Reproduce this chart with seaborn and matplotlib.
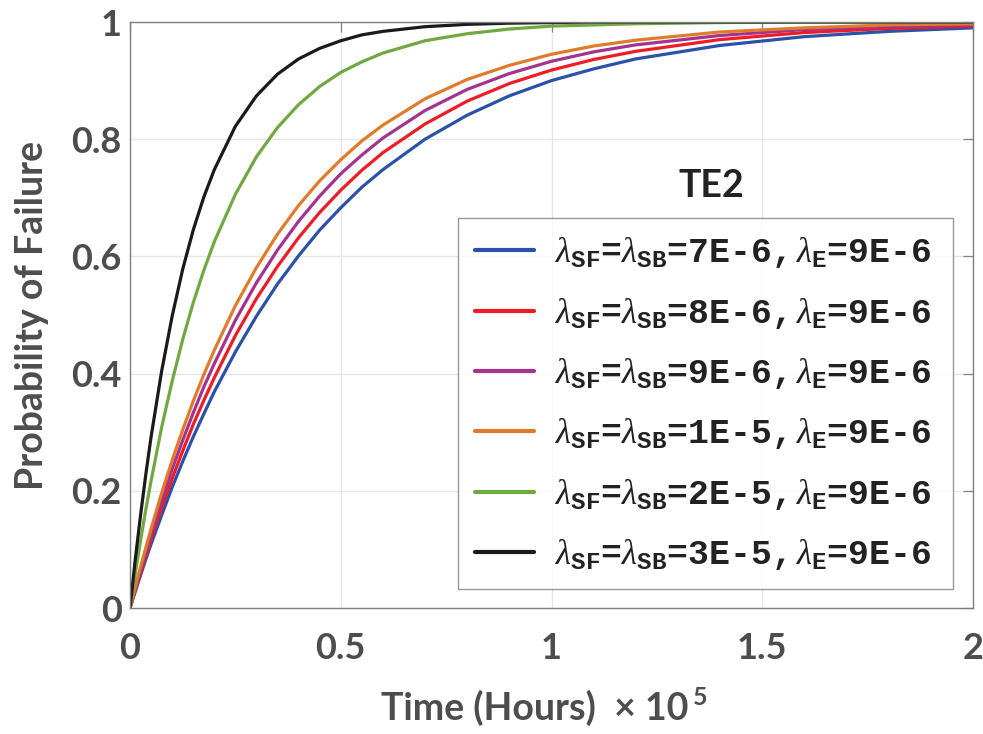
import numpy as np
import pandas as pd
import matplotlib
matplotlib.use("Agg")
import matplotlib.pyplot as plt
import seaborn as sns

# Time axis in units of 1e5 hours
time = [0, 0.0125, 0.025, 0.0375, 0.05, 0.075, 0.1, 0.125, 0.15, 0.175, 0.2,
        0.25, 0.3, 0.35, 0.4, 0.45, 0.5, 0.55, 0.6, 0.7, 0.8, 0.9, 1.0, 1.1,
        1.2, 1.4, 1.6, 1.8, 2.0]

# Probability of failure for each rate combination
p_sf7 = [0, 0.028, 0.056, 0.083, 0.109, 0.158, 0.206, 0.250, 0.292, 0.331, 0.369,
         0.437, 0.498, 0.553, 0.601, 0.645, 0.683, 0.718, 0.748, 0.800, 0.841,
         0.874, 0.900, 0.920, 0.937, 0.960, 0.975, 0.984, 0.990]
p_sf8 = [0, 0.031, 0.061, 0.089, 0.118, 0.171, 0.221, 0.268, 0.313, 0.354, 0.393,
         0.465, 0.528, 0.583, 0.632, 0.675, 0.713, 0.747, 0.777, 0.826, 0.865,
         0.895, 0.918, 0.936, 0.950, 0.970, 0.982, 0.989, 0.993]
p_sf9 = [0, 0.033, 0.065, 0.096, 0.126, 0.183, 0.237, 0.286, 0.333, 0.377, 0.417,
         0.491, 0.555, 0.611, 0.660, 0.703, 0.741, 0.773, 0.802, 0.849, 0.885,
         0.912, 0.933, 0.949, 0.961, 0.977, 0.987, 0.992, 0.995]
p_sf10 = [0, 0.036, 0.070, 0.103, 0.135, 0.196, 0.252, 0.304, 0.353, 0.398, 0.440,
          0.516, 0.581, 0.638, 0.687, 0.729, 0.765, 0.797, 0.824, 0.869, 0.902,
          0.926, 0.945, 0.959, 0.969, 0.983, 0.990, 0.995, 0.997]
p_sf20 = [0, 0.059, 0.115, 0.168, 0.217, 0.308, 0.387, 0.458, 0.521, 0.576, 0.625,
          0.706, 0.770, 0.820, 0.859, 0.890, 0.914, 0.932, 0.947, 0.968, 0.980,
          0.988, 0.993, 0.995, 0.997, 0.999, 1.000, 1.000, 1.000]
p_sf30 = [0, 0.083, 0.158, 0.228, 0.292, 0.404, 0.498, 0.578, 0.645, 0.701, 0.748,
          0.822, 0.874, 0.911, 0.937, 0.955, 0.968, 0.978, 0.984, 0.992, 0.996,
          0.998, 0.999, 1.000, 1.000, 1.000, 1.000, 1.000, 1.000]

rates_sf = ["7E-6", "8E-6", "9E-6", "1E-5", "2E-5", "3E-5"]
rate_e = "9E-6"
series = [p_sf7, p_sf8, p_sf9, p_sf10, p_sf20, p_sf30]
colors = ["#2a52a8", "#ee1c25", "#a3338f", "#e07b2b", "#70a842", "#1a1a1a"]

labels = [r"$\lambda_{\mathtt{SF}}$=$\lambda_{\mathtt{SB}}$=" + r
          + r",$\,\lambda_{\mathtt{E}}$=" + rate_e
          for r in rates_sf]

frames = []
for lab, vals in zip(labels, series):
    frames.append(pd.DataFrame({"time": time, "prob": vals, "case": lab}))
df = pd.concat(frames, ignore_index=True)

sns.set_style("white")
plt.rcParams["font.family"] = ["Lato", "DejaVu Sans"]
plt.rcParams["mathtext.fontset"] = "custom"
plt.rcParams["mathtext.rm"] = "Liberation Mono:weight=bold"
plt.rcParams["mathtext.tt"] = "Liberation Mono:weight=bold"
plt.rcParams["mathtext.it"] = "Liberation Serif:italic"
plt.rcParams["mathtext.bf"] = "Liberation Mono:weight=bold"

txt = "#4d4d4d"
fig = plt.figure(figsize=(9.83, 7.34), dpi=100)
ax = fig.add_axes([130 / 983, 1 - 608 / 734, 843 / 983, 586 / 734])

sns.lineplot(data=df, x="time", y="prob", hue="case", hue_order=labels,
             palette=colors, linewidth=2.3, ax=ax, sort=False, estimator=None)

ax.set_xlim(0, 2)
ax.set_ylim(0, 1)
ax.set_xticks([0, 0.5, 1, 1.5, 2])
ax.set_xticklabels(["0", "0.5", "1", "1.5", "2"])
ax.set_yticks([0, 0.2, 0.4, 0.6, 0.8, 1])
ax.set_yticklabels(["0", "0.2", "0.4", "0.6", "0.8", "1"])
ax.grid(True, color="#e6e6e6", linewidth=0.9)
for s in ax.spines.values():
    s.set_color("#808080")
    s.set_linewidth(1.0)
ax.tick_params(direction="in", length=7, width=0.9, color="#808080",
               top=True, right=True, labelsize=26, labelcolor=txt)
ax.tick_params(axis="x", pad=17)
ax.tick_params(axis="y", pad=6)
for t in ax.get_xticklabels() + ax.get_yticklabels():
    t.set_fontweight("bold")

ax.set_ylabel("Probability of Failure", fontsize=27, fontweight="bold",
              color=txt, labelpad=16)
ax.set_xlabel("")
xl = fig.text(535 / 983, 14 / 734, "Time (Hours)  \u00d7 10", fontsize=27,
              fontweight="bold", color=txt, ha="center", va="baseline")
ax.annotate("5", xy=(1, 1), xycoords=xl, xytext=(3, -14), textcoords="offset points",
            fontsize=18, fontweight="bold", color=txt, ha="left", va="bottom")

leg = ax.legend(loc="upper left", bbox_to_anchor=(0.389, 0.6655, 0.587, 0.0),
                mode="expand", fontsize=25, frameon=True, fancybox=False,
                handlelength=1.7, handletextpad=0.6, labelspacing=0.73,
                borderpad=0.5, title=None, borderaxespad=0)
leg.get_frame().set_edgecolor("#808080")
leg.get_frame().set_linewidth(1.0)
for line in leg.get_lines():
    line.set_linewidth(3)
for t in leg.get_texts():
    t.set_color("#222222")
    t.set_family("Liberation Mono")
    t.set_fontweight("bold")

ax.text(0.690, 0.72, "TE2", transform=ax.transAxes, fontsize=27,
        fontweight="bold", color="#222222", ha="center", va="center")

fig.savefig("out.png", dpi=100)
